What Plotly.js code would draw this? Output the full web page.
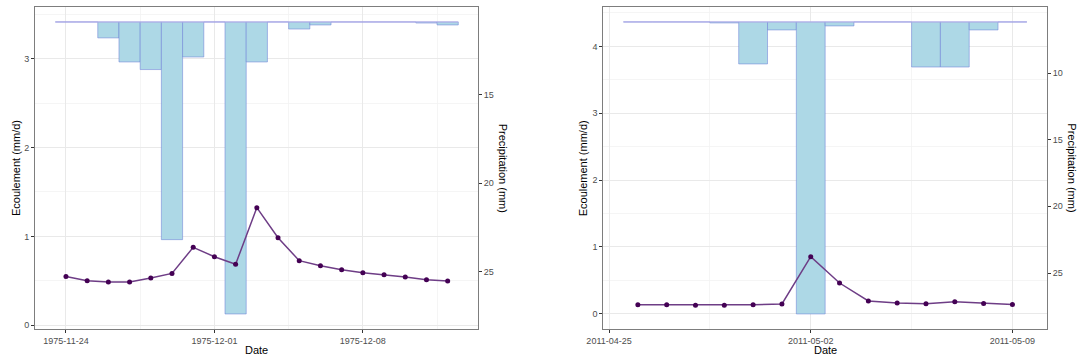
<!DOCTYPE html>
<html>
<head>
<meta charset="utf-8">
<script src="https://cdn.plot.ly/plotly-3.0.1.min.js"></script>
<style>html,body{margin:0;padding:0;background:#fff;}#chart{width:1089px;height:358px;}</style>
</head>
<body>
<div id="chart"></div>
<script>
// ---------- data ----------
const dates1 = ["1975-11-24","1975-11-25","1975-11-26","1975-11-27","1975-11-28","1975-11-29","1975-11-30","1975-12-01","1975-12-02","1975-12-03","1975-12-04","1975-12-05","1975-12-06","1975-12-07","1975-12-08","1975-12-09","1975-12-10","1975-12-11","1975-12-12"];
const flow1 = [0.549,0.501,0.486,0.486,0.531,0.583,0.876,0.771,0.685,1.323,0.985,0.726,0.670,0.625,0.591,0.568,0.543,0.512,0.497];
const precip1 = [0,0,0.90,2.26,2.69,12.3,1.98,0,16.5,2.26,0,0.40,0.17,0,0,0,0,0.06,0.17];
const precipBase1 = 10.89;

const dates2 = ["2011-04-26","2011-04-27","2011-04-28","2011-04-29","2011-04-30","2011-05-01","2011-05-02","2011-05-03","2011-05-04","2011-05-05","2011-05-06","2011-05-07","2011-05-08","2011-05-09"];
const flow2 = [0.135,0.135,0.125,0.125,0.135,0.145,0.853,0.459,0.190,0.160,0.150,0.180,0.154,0.139];
const precip2 = [0,0,0,0.075,3.15,0.6,21.9,0.3,0,0,3.38,3.38,0.6,0];
const precipBase2 = 6.17;

const xTicks1 = ["1975-11-24","1975-12-01","1975-12-08"];
const xTicks2 = ["2011-04-25","2011-05-02","2011-05-09"];
const flowTitle = "Ecoulement (mm/d)";
const precipTitle = "Precipitation (mm)";
const dateTitle = "Date";

// ---------- helpers ----------
const DAY = 86400000;
function ms(s){ const p = s.split("-").map(Number); return Date.UTC(p[0], p[1]-1, p[2]); }
function fmt(t){ return new Date(t).toISOString().replace("T"," ").replace("Z",""); }

const W = 1089, H = 358;
const mL = 35, mR = 42, mT = 7.3, mB = 28.7;
const pw = W - mL - mR, ph = H - mT - mB;
const px2x = p => (p - mL) / pw;
const py2y = p => (H - mB - p) / ph;

const fillC = "#ADD8E6";
const barLine = "rgba(110,130,215,0.55)";
const baseC = "#bdb5ea";
const lineC = "#6e3d86";
const ptC = "#440154";
const gridMajor = "#e9e9e9";
const gridMinor = "#f2f2f2";
const borderC = "#7d7d7d";
const tickFont = {family: "Liberation Sans, Arial, sans-serif", size: 9, color: "#4d4d4d"};
const titleFont = {family: "Liberation Sans, Arial, sans-serif", size: 11, color: "#000"};

function panelTraces(dates, flow, precip, base, xa, yP, yF){
  const n = dates.length;
  return [
    {type: "bar", x: dates, y: precip, base: precip.map(() => base), width: DAY,
     xaxis: xa, yaxis: yP, marker: {color: fillC, line: {color: barLine, width: 1}},
     hoverinfo: "skip", showlegend: false},
    {type: "scatter", mode: "lines", x: [fmt(ms(dates[0]) - DAY/2), fmt(ms(dates[n-1]) + DAY/2)],
     y: [base, base], xaxis: xa, yaxis: yP, line: {color: baseC, width: 1},
     hoverinfo: "skip", showlegend: false},
    {type: "scatter", mode: "lines+markers", x: dates, y: flow, xaxis: xa, yaxis: yF,
     line: {color: lineC, width: 1.5}, marker: {color: ptC, size: 5},
     hoverinfo: "skip", showlegend: false}
  ];
}

const traces = [
  ...panelTraces(dates1, flow1, precip1, precipBase1, "x", "y", "y2"),
  ...panelTraces(dates2, flow2, precip2, precipBase2, "x2", "y3", "y4")
];

function xAxis(domain, anchor, ticks, r0, r1){
  return {
    type: "date", domain: domain, anchor: anchor,
    range: [fmt(ms(ticks[0]) + r0*DAY), fmt(ms(ticks[0]) + r1*DAY)],
    tickvals: ticks, ticktext: ticks, ticks: "outside", ticklen: 3, tickwidth: 1, tickcolor: "#333",
    tickfont: tickFont, showgrid: true, gridcolor: gridMajor, gridwidth: 1,
    minor: {dtick: 3.5*DAY, tick0: ticks[0], showgrid: true, gridcolor: gridMinor, gridwidth: 0.8, ticks: ""},
    showline: true, mirror: true, linecolor: borderC, linewidth: 1, zeroline: false, fixedrange: true
  };
}
function precipAxis(anchor, range, dtick){
  return {
    anchor: anchor, side: "right", range: range, dtick: dtick, tick0: 0,
    ticks: "outside", ticklen: 3, tickwidth: 1, tickcolor: "#333", tickfont: tickFont,
    showgrid: false, zeroline: false, showline: true, linecolor: borderC, linewidth: 1, fixedrange: true
  };
}
function flowAxis(overlay, anchor, range){
  return {
    overlaying: overlay, anchor: anchor, side: "left", range: range, dtick: 1, tick0: 0,
    ticks: "outside", ticklen: 3, tickwidth: 1, tickcolor: "#333", tickfont: tickFont,
    showgrid: true, gridcolor: gridMajor, gridwidth: 1,
    minor: {dtick: 0.5, showgrid: true, gridcolor: gridMinor, gridwidth: 0.8, ticks: ""},
    zeroline: false, showline: true, linecolor: borderC, linewidth: 1, fixedrange: true
  };
}

const d1 = [0, px2x(478)], d2 = [px2x(603.3), 1];

const ann = (text, x, y, angle) => ({text: text, x: x, y: y, xref: "paper", yref: "paper",
  xanchor: "center", yanchor: "middle", showarrow: false, textangle: angle, font: titleFont});

const layout = {
  width: W, height: H, margin: {l: mL, r: mR, t: mT, b: mB},
  paper_bgcolor: "#fff", plot_bgcolor: "#fff", showlegend: false, barmode: "overlay",
  xaxis: xAxis(d1, "y", xTicks1, -1.46, 19.43),
  yaxis: precipAxis("x", [28.24, 10.045], 5),
  yaxis2: flowAxis("y", "x", [-0.043, 3.582]),
  xaxis2: xAxis(d2, "y3", xTicks2, -0.2, 15.2),
  yaxis3: precipAxis("x2", [29.2, 5.05], 5),
  yaxis4: flowAxis("y3", "x2", [-0.229, 4.589]),
  annotations: [
    ann(flowTitle, px2x(16), 0.5, -90),
    ann(precipTitle, px2x(503.3), 0.5, 90),
    ann(dateTitle, px2x(256.5), py2y(350), 0),
    ann(flowTitle, px2x(583.3), 0.5, -90),
    ann(precipTitle, px2x(1071.7), 0.5, 90),
    ann(dateTitle, px2x(825), py2y(350), 0)
  ]
};

Plotly.newPlot("chart", traces, layout, {staticPlot: true, displayModeBar: false});
</script>
</body>
</html>
